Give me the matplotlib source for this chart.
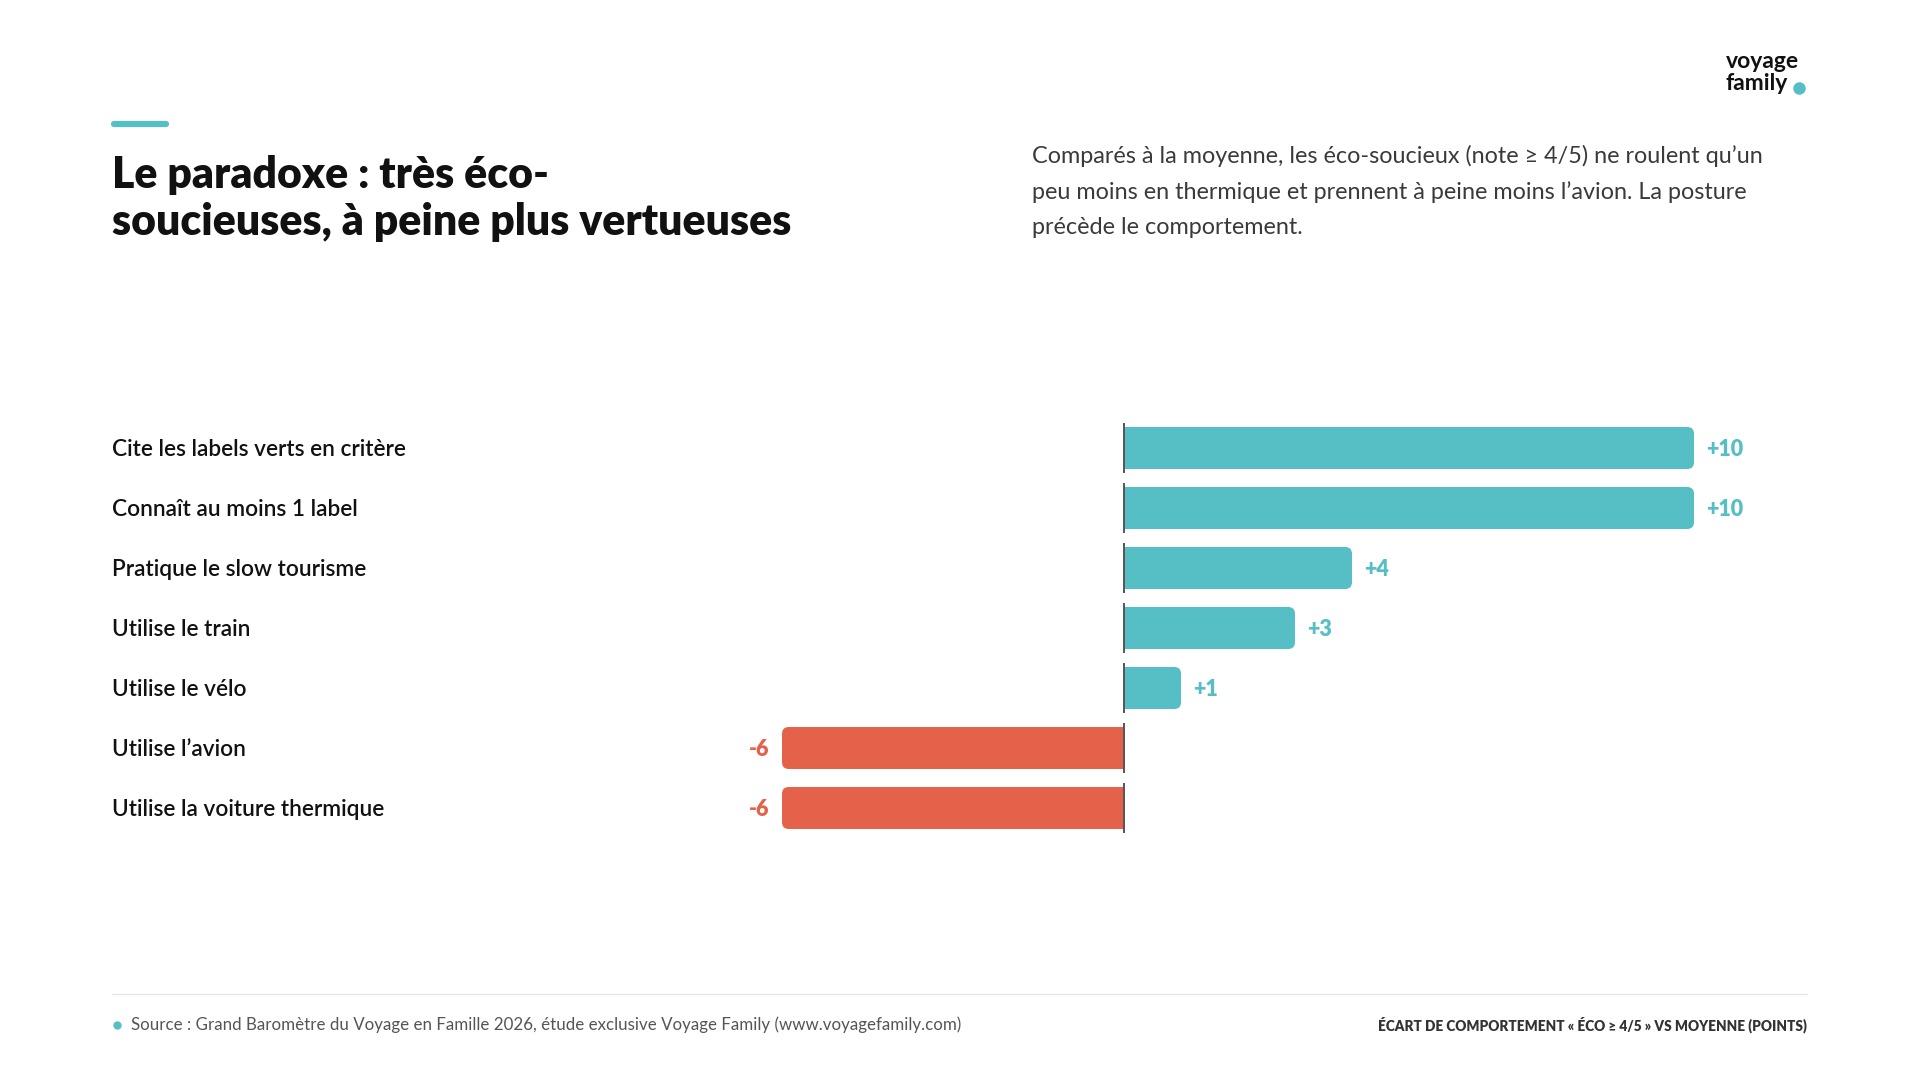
import matplotlib
matplotlib.use("Agg")
import matplotlib.pyplot as plt
from matplotlib.patches import FancyBboxPatch, Rectangle
from matplotlib.lines import Line2D
import matplotlib.transforms as mtransforms

plt.rcParams['font.family'] = ['Lato', 'DejaVu Sans']

categories = ["Cite les labels verts en critère", "Connaît au moins 1 label",
              "Pratique le slow tourisme", "Utilise le train", "Utilise le vélo",
              "Utilise l’avion", "Utilise la voiture thermique"]
values = [10, 10, 4, 3, 1, -6, -6]
value_labels = ["+10", "+10", "+4", "+3", "+1", "-6", "-6"]

title = "Le paradoxe : très éco-\nsoucieuses, à peine plus vertueuses"
subtitle = ("Comparés à la moyenne, les éco-soucieux (note ≥ 4/5) ne roulent qu’un\n"
            "peu moins en thermique et prennent à peine moins l’avion. La posture\n"
            "précède le comportement.")
source = "Source : Grand Baromètre du Voyage en Famille 2026, étude exclusive Voyage Family (www.voyagefamily.com)"
axis_note = "ÉCART DE COMPORTEMENT « ÉCO ≥ 4/5 » VS MOYENNE (POINTS)"

TEAL = "#55BFC5"
RED = "#E5624A"
DARK = "#111111"

W, H = 1920, 1080
fig = plt.figure(figsize=(19.2, 10.8), dpi=100)
fig.patch.set_facecolor("white")

def fx(px): return px / W
def fy(py): return 1 - py / H

# chart axes
left_px, right_px = 112, 1807
zero_px, unit_px = 1124, 57.0
top_px, bot_px = 418, 838
ax = fig.add_axes([fx(left_px), fy(bot_px), (right_px - left_px) / W, (bot_px - top_px) / H])
ax.set_xlim(-(zero_px - left_px) / unit_px, (right_px - zero_px) / unit_px)
ax.set_ylim(len(categories) - 0.5, -0.5)
ax.axis("off")

bar_h = 0.7
r = 0.12
aspect = unit_px / 60.0
trans = mtransforms.blended_transform_factory(ax.transAxes, ax.transData)
for i, (cat, v, lab) in enumerate(zip(categories, values, value_labels)):
    col = TEAL if v > 0 else RED
    y0 = i - bar_h / 2
    x0 = min(0, v)
    ax.add_patch(FancyBboxPatch((x0, y0), abs(v), bar_h,
                                boxstyle=f"round,pad=0,rounding_size={r}",
                                mutation_aspect=aspect, fc=col, ec="none", zorder=2))
    sq = 0.3 if v > 0 else -0.3
    ax.add_patch(Rectangle((0, y0), sq, bar_h, fc=col, ec="none", zorder=2))
    ax.plot([0, 0], [i - 0.42, i + 0.42], color="#555555", lw=1.4, zorder=3,
            solid_capstyle="butt")
    off = 0.22
    if v > 0:
        ax.text(v + off, i + 0.03, lab, color=col, fontsize=15.5, fontweight="heavy",
                ha="left", va="center")
    else:
        ax.text(v - off, i + 0.03, lab, color=col, fontsize=15.5, fontweight="heavy",
                ha="right", va="center")
    ax.text(0, i + 0.03, cat, transform=trans, fontsize=16.3, color=DARK,
            ha="left", va="center", fontweight="semibold")

# accent line
fig.add_artist(Line2D([fx(114), fx(166)], [fy(124), fy(124)], color=TEAL, lw=4.5,
                      solid_capstyle="round"))
# title
fig.text(fx(112), fy(155), title, fontsize=30.8, fontweight="heavy", color=DARK,
         ha="left", va="top", linespacing=1.2)
# subtitle
fig.text(fx(1032), fy(145), subtitle, fontsize=16.8, color="#3a3a3a",
         ha="left", va="top", linespacing=1.8)
# logo
fig.text(fx(1726), fy(61), "voyage", fontsize=16.5, fontweight="bold", color=DARK,
         ha="left", va="center")
fig.text(fx(1726), fy(84), "family", fontsize=16.5, fontweight="bold", color=DARK,
         ha="left", va="center")
fig.add_artist(Line2D([fx(1799)], [fy(88)], marker="o", markersize=9,
                      color=TEAL, markeredgewidth=0))

# footer
fig.add_artist(Line2D([fx(112), fx(1807)], [fy(994), fy(994)], color="#e6e6e6", lw=1))
fig.add_artist(Line2D([fx(117)], [fy(1025)], marker="o", markersize=6,
                      color=TEAL, markeredgewidth=0))
fig.text(fx(131), fy(1025), source, fontsize=12.2, color="#555555", ha="left", va="center")
fig.text(fx(1807), fy(1025), axis_note, fontsize=9.8, color="#333333",
         fontweight="heavy", ha="right", va="center")

fig.savefig("out.png", dpi=100, facecolor="white")
